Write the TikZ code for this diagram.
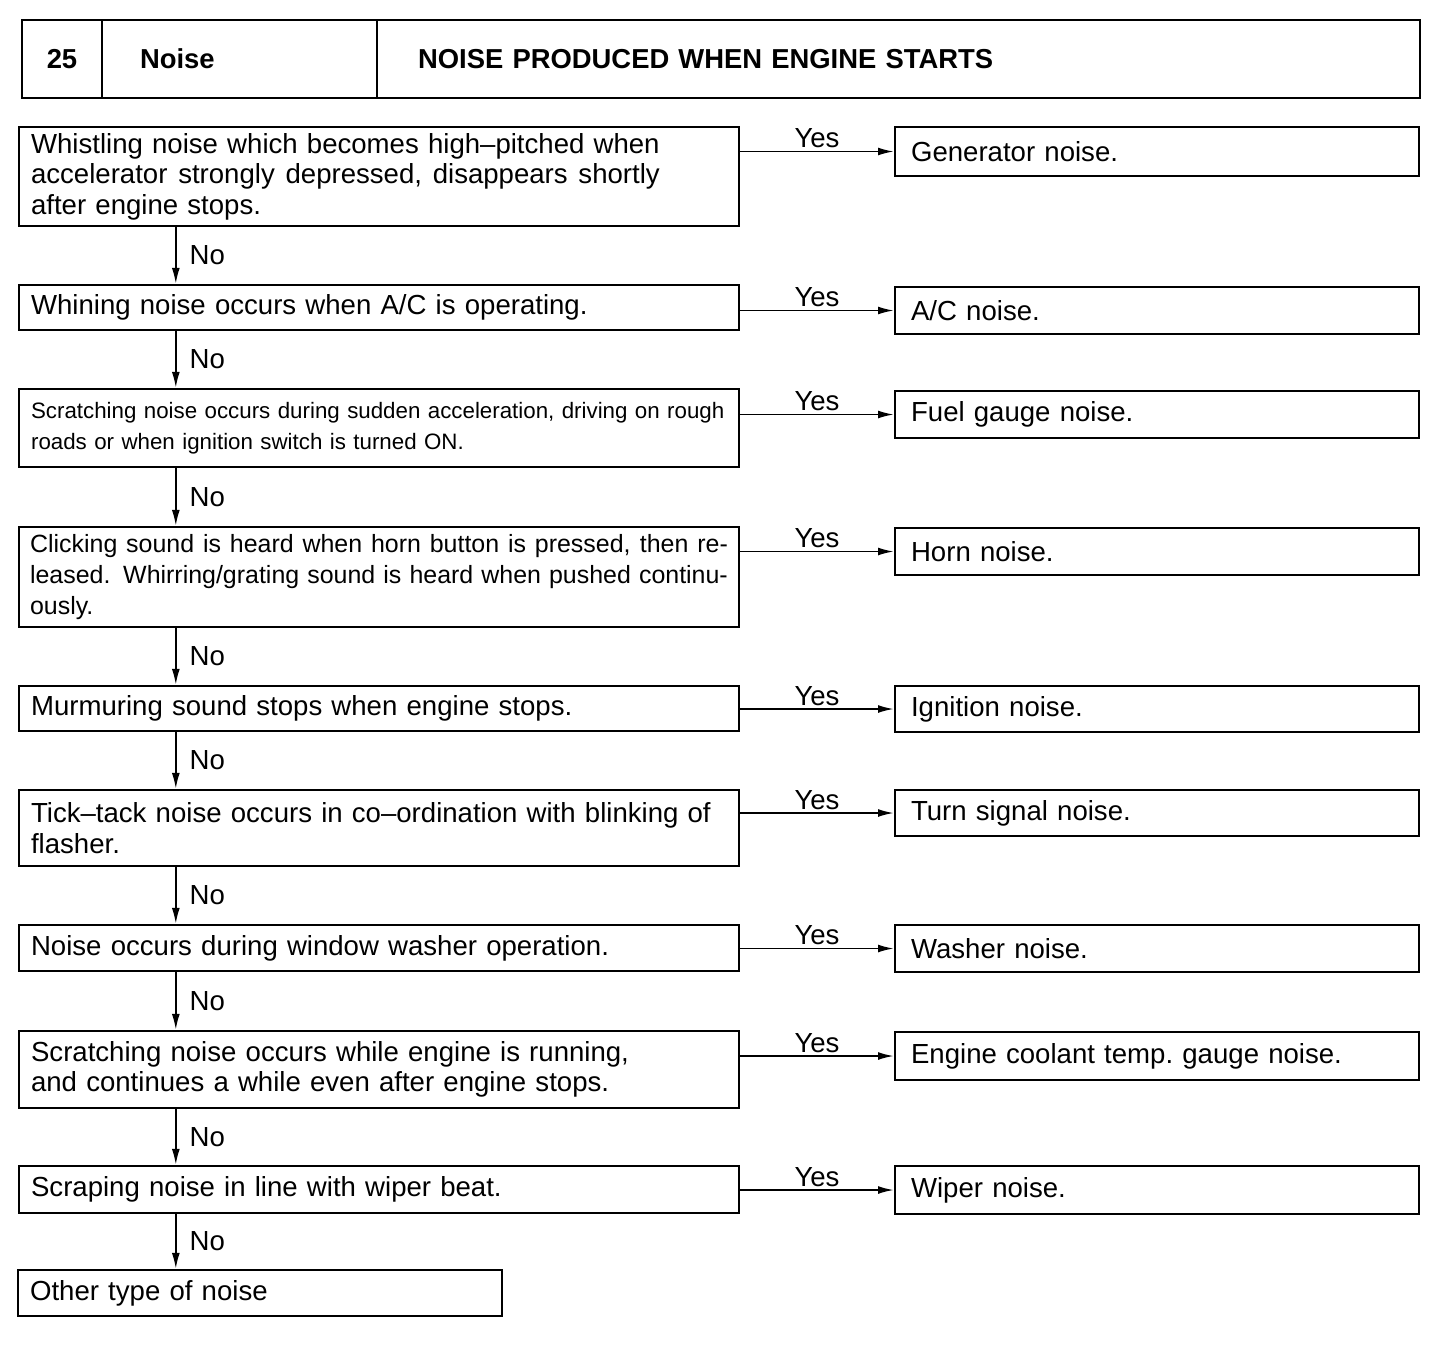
\documentclass[tikz,border=0pt]{standalone}
\usepackage{fontspec}
\setmainfont{Liberation Sans}
\usepackage{tikz}
\usetikzlibrary{arrows.meta, positioning}

\begin{document}
\begin{tikzpicture}[
    x=0.02cm, y=-0.02cm,
    every node/.style={font=\fontsize{15.7}{17.4}\selectfont},
    hcell/.style={draw, line width=1.5pt, minimum height=1.56cm, inner ysep=0pt, font=\fontsize{15.6}{17}\selectfont\bfseries},
    qbox/.style={draw, line width=1.4pt, minimum width=14.4cm, text width=13.92cm, inner xsep=0.24cm, inner ysep=1pt, align=left},
    abox/.style={draw, line width=1.4pt, minimum width=10.48cm, text width=9.84cm, inner xsep=0.32cm, inner ysep=1pt, align=left},
    flow/.style={line width=1pt, -{Latex[length=9pt, width=4.5pt]}},
    yeslbl/.style={above, inner sep=1.5pt},
    nolbl/.style={right, inner xsep=0.26cm}
  ]
  \useasboundingbox (0,0) rectangle (1456,1350);

  % Title bar
  \node[hcell, minimum width=1.6cm] (hnum) at (62,59) {25};
  \node[hcell, minimum width=5.5cm, text width=3.98cm, inner xsep=0.76cm, align=left] (hcat) at (239.5,59) {Noise};
  \node[hcell, minimum width=20.86cm, text width=19.22cm, inner xsep=0.82cm, align=left] (htitle) at (898.5,59) {NOISE PRODUCED WHEN ENGINE STARTS};

  % Questions
  \node[qbox, minimum height=1.98cm] (q1) at (379,176.5) {Whistling noise which becomes high–pitched when\\accelerator\hspace{0.39em}strongly\hspace{0.39em}depressed,\hspace{0.39em}disappears\hspace{0.39em}shortly\\after engine stops.};
  \node[qbox, minimum height=0.9cm] (q2) at (379,307.5) {Whining noise occurs when A/C is operating.};
  \node[qbox, minimum height=1.56cm, font=\fontsize{12.7}{17.6}\selectfont] (q3) at (379,428) {Scratching noise occurs during sudden acceleration, driving on rough\\roads or when ignition switch is turned ON.};
  \node[qbox, minimum height=2.0cm, align=justify, text width=13.96cm, inner xsep=0.22cm, font=\fontsize{14.2}{17.6}\selectfont] (q4) at (379,577) {Clicking sound is heard when horn button is pressed, then re-\linebreak leased. Whirring/grating sound is heard when pushed continu-\linebreak ously.};
  \node[qbox, minimum height=0.9cm] (q5) at (379,708.5) {Murmuring sound stops when engine stops.};
  \node[qbox, minimum height=1.52cm] (q6) at (379,828) {Tick–tack noise occurs in co–ordination with blinking of\\flasher.};
  \node[qbox, minimum height=0.92cm] (q7) at (379,948) {Noise occurs during window washer operation.};
  \node[qbox, minimum height=1.54cm] (q8) at (379,1069.5) {Scratching noise occurs while engine is running,\\and continues a while even after engine stops.};
  \node[qbox, minimum height=0.94cm] (q9) at (379,1189.5) {Scraping noise in line with wiper beat.};
  \node[qbox, minimum height=0.92cm, minimum width=9.68cm, text width=9.2cm] (q10) at (260,1293) {Other type of noise};

  % Answers
  \node[abox, minimum height=0.98cm] (a1) at (1157,151.5) {Generator noise.};
  \node[abox, minimum height=0.94cm] (a2) at (1157,310.5) {A/C noise.};
  \node[abox, minimum height=0.94cm] (a3) at (1157,414.5) {Fuel gauge noise.};
  \node[abox, minimum height=0.94cm] (a4) at (1157,551.5) {Horn noise.};
  \node[abox, minimum height=0.92cm] (a5) at (1157,709) {Ignition noise.};
  \node[abox, minimum height=0.92cm] (a6) at (1157,813) {Turn signal noise.};
  \node[abox, minimum height=0.94cm] (a7) at (1157,948.5) {Washer noise.};
  \node[abox, minimum height=0.96cm] (a8) at (1157,1056) {Engine coolant temp.\ gauge noise.};
  \node[abox, minimum height=0.96cm] (a9) at (1157,1190) {Wiper noise.};

  % Yes branches
  \draw[flow] (q1.east |- a1) -- (a1) node[yeslbl, midway] {Yes};
  \draw[flow] (q2.east |- a2) -- (a2) node[yeslbl, midway] {Yes};
  \draw[flow] (q3.east |- a3) -- (a3) node[yeslbl, midway] {Yes};
  \draw[flow] (q4.east |- a4) -- (a4) node[yeslbl, midway] {Yes};
  \draw[flow] (q5.east |- a5) -- (a5) node[yeslbl, midway] {Yes};
  \draw[flow] (q6.east |- a6) -- (a6) node[yeslbl, midway] {Yes};
  \draw[flow] (q7.east |- a7) -- (a7) node[yeslbl, midway] {Yes};
  \draw[flow] (q8.east |- a8) -- (a8) node[yeslbl, midway] {Yes};
  \draw[flow] (q9.east |- a9) -- (a9) node[yeslbl, midway] {Yes};

  % No branches
  \draw[flow] ([xshift=3.16cm]q1.south west) -- ([xshift=3.16cm]q2.north west) node[nolbl, midway] {No};
  \draw[flow] ([xshift=3.16cm]q2.south west) -- ([xshift=3.16cm]q3.north west) node[nolbl, midway] {No};
  \draw[flow] ([xshift=3.16cm]q3.south west) -- ([xshift=3.16cm]q4.north west) node[nolbl, midway] {No};
  \draw[flow] ([xshift=3.16cm]q4.south west) -- ([xshift=3.16cm]q5.north west) node[nolbl, midway] {No};
  \draw[flow] ([xshift=3.16cm]q5.south west) -- ([xshift=3.16cm]q6.north west) node[nolbl, midway] {No};
  \draw[flow] ([xshift=3.16cm]q6.south west) -- ([xshift=3.16cm]q7.north west) node[nolbl, midway] {No};
  \draw[flow] ([xshift=3.16cm]q7.south west) -- ([xshift=3.16cm]q8.north west) node[nolbl, midway] {No};
  \draw[flow] ([xshift=3.16cm]q8.south west) -- ([xshift=3.16cm]q9.north west) node[nolbl, midway] {No};
  \draw[flow] ([xshift=3.16cm]q9.south west) -- ([xshift=3.16cm]q9.south west |- q10.north) node[nolbl, midway] {No};
\end{tikzpicture}
\end{document}
